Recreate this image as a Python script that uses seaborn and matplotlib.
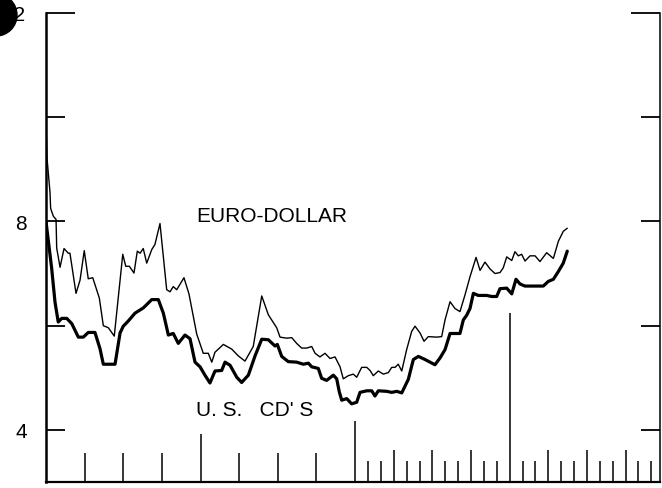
#Euro-dollar vs U.S. CD rates, monthly scale
import numpy as np
import pandas as pd
import matplotlib
matplotlib.use("Agg")
import matplotlib.pyplot as plt
from matplotlib.patches import Circle
from matplotlib.transforms import IdentityTransform
import seaborn as sns

#months from the start of the axis, rate in percent
euro_month = [0.0, 0.08, 0.31, 0.36, 0.57, 0.78, 0.83, 1.09, 1.40, 1.73, 1.86, 2.33, 2.64, 2.97,
              3.28, 3.63, 4.14, 4.45, 4.84, 5.30, 5.96, 6.19, 6.47, 6.83, 7.09, 7.30, 7.55, 7.82,
              8.21, 8.46, 8.85, 9.37, 9.63, 9.88, 10.15, 10.71, 11.10, 11.70, 12.21, 12.60, 12.87,
              13.12, 13.77, 14.42, 14.93, 15.45, 16.09, 16.75, 17.26, 17.91, 18.17, 18.69, 19.08,
              19.46, 19.85, 20.24, 20.63, 20.89, 21.27, 21.66, 22.05, 22.44, 22.83, 23.08, 23.47,
              23.86, 24.12, 24.51, 24.90, 25.16, 25.41, 25.80, 26.19, 26.58, 26.84, 27.10, 27.35,
              27.62, 28.00, 28.39, 28.65, 29.04, 29.35, 29.68, 30.33, 30.72, 30.98, 31.37, 31.75,
              32.14, 32.53, 32.92, 33.39, 33.70, 34.08, 34.47, 34.86, 35.25, 35.50, 35.77, 36.16,
              36.41, 36.67, 36.93, 37.19, 37.58, 37.97, 38.35, 38.87, 39.39, 39.78, 40.16, 40.47]
euro_rate = [9.90, 9.21, 8.56, 8.25, 8.10, 8.04, 7.49, 7.12, 7.48, 7.39, 7.39, 6.62, 6.87, 7.44,
             6.90, 6.92, 6.53, 6.00, 5.96, 5.80, 7.37, 7.14, 7.14, 7.01, 7.43, 7.39, 7.48, 7.20,
             7.46, 7.56, 7.96, 6.69, 6.65, 6.75, 6.69, 6.92, 6.61, 5.84, 5.47, 5.47, 5.30,
             5.49, 5.64, 5.55, 5.42, 5.32, 5.60, 6.57, 6.21, 5.96, 5.78, 5.76, 5.77,
             5.66, 5.57, 5.57, 5.60, 5.47, 5.40, 5.47, 5.37, 5.40, 5.21, 4.98, 5.04,
             5.07, 5.01, 5.20, 5.20, 5.14, 5.04, 5.13, 5.07, 5.10, 5.20, 5.20, 5.26,
             5.13, 5.54, 5.89, 5.99, 5.86, 5.70, 5.79, 5.78, 5.79, 6.11, 6.46, 6.33,
             6.27, 6.59, 6.94, 7.31, 7.06, 7.22, 7.09, 7.00, 7.02, 7.11, 7.32, 7.25,
             7.42, 7.34, 7.37, 7.24, 7.34, 7.34, 7.23, 7.40, 7.29, 7.62, 7.81, 7.87]

cd_month = [0.0, 0.44, 0.70, 0.95, 1.22, 1.61, 2.00, 2.51, 2.90, 3.28, 3.80, 4.19, 4.45, 5.36,
            5.75, 6.00, 6.39, 6.91, 7.55, 8.21, 8.72, 9.11, 9.50, 9.88, 10.27, 10.79, 11.18,
            11.57, 11.96, 12.34, 12.73, 13.12, 13.64, 13.90, 14.29, 14.81, 15.19, 15.71, 16.23,
            16.75, 17.26, 17.78, 17.96, 18.30, 18.81, 19.46, 19.98, 20.37, 20.63, 21.14, 21.40,
            21.79, 22.31, 22.57, 22.77, 22.96, 23.35, 23.73, 24.12, 24.38, 24.90, 25.29, 25.54,
            25.80, 26.45, 26.84, 27.23, 27.62, 28.13, 28.52, 28.91, 29.43, 30.20, 30.59, 30.98,
            31.37, 32.14, 32.40, 32.66, 32.92, 33.18, 33.56, 34.22, 34.60, 34.99, 35.25, 35.77,
            36.16, 36.49, 36.80, 37.19, 38.61, 39.00, 39.39, 39.78, 40.16, 40.47]
cd_rate = [8.00, 7.10, 6.45, 6.07, 6.14, 6.14, 6.04, 5.78, 5.78, 5.87, 5.87, 5.56, 5.26, 5.26,
           5.86, 5.99, 6.09, 6.24, 6.34, 6.50, 6.50, 6.24, 5.82, 5.85, 5.66, 5.82, 5.75,
           5.30, 5.21, 5.05, 4.90, 5.13, 5.14, 5.30, 5.24, 5.01, 4.91, 5.05, 5.42,
           5.74, 5.73, 5.61, 5.64, 5.41, 5.31, 5.30, 5.26, 5.28, 5.21, 5.18, 4.99,
           4.95, 5.05, 4.98, 4.73, 4.57, 4.60, 4.50, 4.53, 4.72, 4.75, 4.75, 4.65,
           4.75, 4.74, 4.72, 4.74, 4.71, 4.97, 5.35, 5.41, 5.35, 5.25, 5.38, 5.54,
           5.85, 5.85, 6.11, 6.20, 6.33, 6.62, 6.58, 6.58, 6.56, 6.56, 6.71, 6.72,
           6.61, 6.89, 6.80, 6.76, 6.76, 6.85, 6.89, 7.04, 7.20, 7.43]

#quarterly ticks for the first two years, monthly after that
x_ticks = [3, 6, 9, 12, 15, 18, 21, 24] + list(range(25, 48))
y_ticks = [4, 6, 8, 10]
y_labels = ["4", "", "8", ""]

sns.set_style("ticks", {"axes.edgecolor": "black", "xtick.color": "black",
                        "ytick.color": "black", "text.color": "black"})
plt.rcParams['font.family'] = ['Liberation Sans', 'DejaVu Sans']

fig = plt.figure(figsize=(6.62, 4.89), dpi=100)
ax = fig.add_axes([46/662, 1 - 483/489, 614/662, 469/489])

euro = pd.DataFrame({"month": euro_month, "rate": euro_rate})
cd = pd.DataFrame({"month": cd_month, "rate": cd_rate})
sns.lineplot(data=euro, x="month", y="rate", color="black", linewidth=1.0,
             estimator=None, sort=False, ax=ax)
sns.lineplot(data=cd, x="month", y="rate", color="black", linewidth=2.3,
             estimator=None, sort=False, ax=ax)

ax.set_xlim(0, 47.67)
ax.set_ylim(3, 12)
ax.set_xlabel("")
ax.set_ylabel("")

#x ticks point up from the bottom, lengths differ by month/quarter/year
ax.set_xticks(x_ticks)
ax.set_xticklabels([])
ax.tick_params(axis="x", direction="in", width=1.1, color="black", bottom=True, top=False)
for m, t in zip(x_ticks, ax.xaxis.get_major_ticks()):
    if m == 36:
        L = 122
    elif m == 24:
        L = 44
    elif m == 12:
        L = 34.5
    elif m < 24:
        L = 21
    elif m % 3 == 0:
        L = 23
    else:
        L = 15
    t.tick1line.set_markersize(L)

ax.set_yticks(y_ticks)
ax.set_yticklabels(y_labels)
ax.set_yticks([12], minor=True)
ax.set_yticklabels(["12"], minor=True)
ax.tick_params(axis="y", which="major", direction="in", length=13.7, width=1.3,
               color="black", labelcolor="black", left=True, right=True,
               labelsize=15, pad=13.5)
ax.tick_params(axis="y", which="minor", direction="in", length=21, width=1.3,
               color="black", labelcolor="black", left=True, right=True,
               labelsize=15, pad=15)

ax.spines["top"].set_visible(False)
ax.spines["left"].set_linewidth(1.8)
ax.spines["bottom"].set_linewidth(1.6)
ax.spines["right"].set_linewidth(1.1)

ax.text(11.65, 8.12, "EURO-DOLLAR", fontsize=15, color="black", va="center", ha="left")
ax.text(11.65, 4.40, "U. S.   CD' S", fontsize=15, color="black", va="center", ha="left")

#black punch hole in the corner of the scan
fig.add_artist(Circle((-4, 489 - 16), 21, transform=IdentityTransform(),
                      color="black", zorder=10))

fig.savefig("out.png", dpi=100)
